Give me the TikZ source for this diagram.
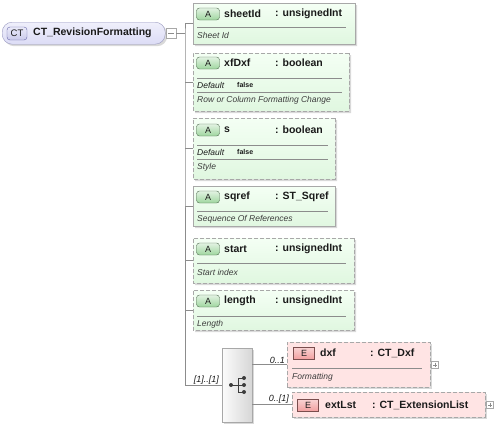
\documentclass[tikz,border=0pt]{standalone}
\usepackage{fontspec}
\setmainfont{Liberation Sans}
\usetikzlibrary{arrows.meta,positioning,shapes.misc,shadows}
\definecolor{ink}{HTML}{1A1A1A}
\definecolor{muted}{HTML}{3C3C3C}
\definecolor{wire}{HTML}{8C8C8C}
\definecolor{frame}{HTML}{A8A8A8}
\definecolor{attrfill}{HTML}{E0F7E0}
\definecolor{attrtop}{HTML}{F4FFF4}
\definecolor{agreen}{HTML}{9FD69F}
\definecolor{aedge}{HTML}{4F6B4F}
\definecolor{elemfill}{HTML}{FFE4E4}
\definecolor{ered}{HTML}{F2A0A0}
\definecolor{eedge}{HTML}{7A4D4D}
\definecolor{rootfill}{HTML}{DCDCF6}
\definecolor{rootedge}{HTML}{9A9AC0}
\definecolor{ctedge}{HTML}{6868A8}
\definecolor{seqfill}{HTML}{D6D6D6}

\tikzset{
  boxshadow/.style={drop shadow={shadow xshift=2pt,shadow yshift=-2pt,opacity=.25,fill=black!60}},
  attrbox/.style={chamfered rectangle,chamfered rectangle corners={north west,south west},
    chamfered rectangle xsep=3pt,chamfered rectangle ysep=3pt,inner sep=0pt,anchor=north west,
    draw=frame,top color=attrtop,bottom color=attrfill,boxshadow},
  elembox/.style={rectangle,inner sep=0pt,anchor=north west,draw=frame,dashed,
    dash pattern=on 4pt off 2pt,fill=elemfill,boxshadow},
  abadge/.style={rectangle,rounded corners=3pt,inner sep=0pt,
    minimum width=23pt,minimum height=12pt,draw=aedge,top color=white!70!agreen,bottom color=agreen,
    font=\fontsize{9}{9}\selectfont},
  ebadge/.style={rectangle,inner sep=0pt,minimum width=21pt,minimum height=12pt,draw=eedge,
    top color=white!55!ered,bottom color=ered,font=\fontsize{9}{9}\selectfont},
  namelabel/.style={anchor=west,inner sep=0pt,font=\bfseries\fontsize{10.5}{12}\selectfont},
  desclabel/.style={anchor=west,inner sep=0pt,text=muted,font=\itshape\fontsize{8.5}{10}\selectfont},
  deflabel/.style={anchor=west,inner sep=0pt,font=\itshape\fontsize{8.5}{10}\selectfont},
  defvalue/.style={anchor=west,inner sep=0pt,font=\bfseries\fontsize{7}{8}\selectfont},
  cardlabel/.style={inner sep=1pt,font=\itshape\fontsize{9}{10}\selectfont},
  sepline/.style={draw=wire,line width=.6pt},
  wireline/.style={draw=wire,line width=.6pt},
  togglebox/.style={rectangle,draw=frame,fill=white,inner sep=0pt,minimum size=#1},
  minusbox/.style={togglebox=10pt,path picture={\draw[wire]
    ([xshift=2pt]path picture bounding box.west)--([xshift=-2pt]path picture bounding box.east);}},
  plusbox/.style={togglebox=7pt,path picture={\draw[wire]
    ([xshift=1.5pt]path picture bounding box.west)--([xshift=-1.5pt]path picture bounding box.east)
    ([yshift=-1.5pt]path picture bounding box.north)--([yshift=1.5pt]path picture bounding box.south);}}
}

\begin{document}
\begin{tikzpicture}[x=1pt,y=-1pt,every node/.style={text=ink}]
  \useasboundingbox (0,0) rectangle (494,426);

  % complex type
  \node[rectangle,rounded corners=10pt,anchor=north west,draw=rootedge,top color=white!55!rootfill,
    bottom color=rootfill,boxshadow,minimum width=163pt,minimum height=22pt] (root) at (2,22) {};
  \node[rectangle,rounded corners=3pt,draw=ctedge,top color=white!40!rootfill,bottom color=rootfill!85!ctedge,
    inner sep=0pt,minimum width=20pt,minimum height=13pt,font=\fontsize{9.5}{10}\selectfont] (rootbadge) at (17,33.5) {CT};
  \node[namelabel] (rootname) at (33,33) {CT\_RevisionFormatting};
  \node[minusbox] (rootminus) at (171,33) {};
  \coordinate (trunk) at (185,33);

  % attributes
  \node[attrbox,minimum width=162pt,minimum height=41pt] (sheetid) at (193,3) {};
  \node[abadge] (sheetida) at (208,14) {A};
  \node[namelabel] (sheetidname) at (224,14) {sheetId};
  \node[namelabel] (sheetidtype) at (275,14) {: unsignedInt};
  \draw[sepline] (197,27.5) -- (346,27.5);
  \node[desclabel] (sheetiddesc) at (197,35.5) {Sheet Id};

  \node[attrbox,dashed,dash pattern=on 4pt off 2pt,minimum width=156pt,minimum height=58pt] (xfdxf) at (193,53) {};
  \node[abadge] (xfdxfa) at (208,63) {A};
  \node[namelabel] (xfdxfname) at (224,63) {xfDxf};
  \node[namelabel] (xfdxftype) at (275,63) {: boolean};
  \draw[sepline] (197,78) -- (342,78);
  \node[deflabel] (xfdxfdef) at (197,85) {Default};
  \node[defvalue] (xfdxfval) at (237,84.5) {false};
  \draw[sepline] (197,92) -- (342,92);
  \node[desclabel] (xfdxfdesc) at (197,100) {Row or Column Formatting Change};

  \node[attrbox,dashed,dash pattern=on 4pt off 2pt,minimum width=142pt,minimum height=61pt] (s) at (193,118) {};
  \node[abadge] (sa) at (208,130) {A};
  \node[namelabel] (sname) at (224,130) {s};
  \node[namelabel] (stype) at (275,130) {: boolean};
  \draw[sepline] (197,145) -- (328,145);
  \node[deflabel] (sdef) at (197,152) {Default};
  \node[defvalue] (sval) at (237,151.5) {false};
  \draw[sepline] (197,159) -- (328,159);
  \node[desclabel] (sdesc) at (197,167) {Style};

  \node[attrbox,minimum width=142pt,minimum height=40pt] (sqref) at (193,186) {};
  \node[abadge] (sqrefa) at (208,197) {A};
  \node[namelabel] (sqrefname) at (224,197) {sqref};
  \node[namelabel] (sqreftype) at (275,197) {: ST\_Sqref};
  \draw[sepline] (197,211) -- (328,211);
  \node[desclabel] (sqrefdesc) at (197,219) {Sequence Of References};

  \node[attrbox,dashed,dash pattern=on 4pt off 2pt,minimum width=161pt,minimum height=45pt] (start) at (193,238) {};
  \node[abadge] (starta) at (208,249) {A};
  \node[namelabel] (startname) at (224,249) {start};
  \node[namelabel] (starttype) at (275,249) {: unsignedInt};
  \draw[sepline] (197,263) -- (346,263);
  \node[desclabel] (startdesc) at (197,272) {Start index};

  \node[attrbox,dashed,dash pattern=on 4pt off 2pt,minimum width=161pt,minimum height=40pt] (length) at (193,290) {};
  \node[abadge] (lengtha) at (208,301) {A};
  \node[namelabel] (lengthname) at (224,301) {length};
  \node[namelabel] (lengthtype) at (275,301) {: unsignedInt};
  \draw[sepline] (197,316) -- (346,316);
  \node[desclabel] (lengthdesc) at (197,324) {Length};

  % sequence
  \node[rectangle,anchor=north west,draw=frame,left color=white!92!seqfill,right color=seqfill,boxshadow,
    minimum width=30pt,minimum height=74pt] (seq) at (222,348) {};
  \draw[muted,line width=.8pt] (231,385) -- (238,385) (238,378) -- (238,392)
    (238,378) -- (244,378) (238,385) -- (244,385) (238,392) -- (244,392);
  \fill[muted] (231,385) circle[radius=2pt];
  \fill[muted] (244,378) circle[radius=2pt];
  \fill[muted] (244,385) circle[radius=2pt];
  \fill[muted] (244,392) circle[radius=2pt];

  % elements
  \node[elembox,minimum width=143pt,minimum height=45pt] (dxf) at (287,342) {};
  \node[ebadge] (dxfe) at (304,353) {E};
  \node[namelabel] (dxfname) at (320,353) {dxf};
  \node[namelabel] (dxftype) at (370,353) {: CT\_Dxf};
  \draw[sepline] (292,368) -- (422,368);
  \node[desclabel] (dxfdesc) at (292,377) {Formatting};
  \node[plusbox,right=1pt of dxf] (dxfplus) {};

  \node[elembox,minimum width=193pt,minimum height=25pt] (extlst) at (292,392) {};
  \node[ebadge] (extlste) at (308,405) {E};
  \node[namelabel] (extlstname) at (325,405) {extLst};
  \node[namelabel] (extlsttype) at (372,405) {: CT\_ExtensionList};
  \node[plusbox,right=1pt of extlst] (extlstplus) {};

  % connectors
  \draw[wireline] (root.east) -- (rootminus.west);
  \draw[wireline] (rootminus.east) -- (trunk);
  \draw[wireline] (sheetid.west) -| (trunk) |- (seq.west);
  \draw[wireline] (xfdxf.west) -- (xfdxf.west -| trunk);
  \draw[wireline] (s.west) -- (s.west -| trunk);
  \draw[wireline] (sqref.west) -- (sqref.west -| trunk);
  \draw[wireline] (start.west) -- (start.west -| trunk);
  \draw[wireline] (length.west) -- (length.west -| trunk);
  \draw[wireline] (dxf.west -| seq.east) -- (dxf.west);
  \draw[wireline] (extlst.west -| seq.east) -- (extlst.west);
  \node[cardlabel,anchor=south east] (seqcard) at ([xshift=-2pt]seq.west) {[1]..[1]};
  \node[cardlabel,anchor=south east] (dxfcard) at ([xshift=-1pt]dxf.west) {0..1};
  \node[cardlabel,anchor=south east] (extlstcard) at ([xshift=-2pt]extlst.west) {0..[1]};
\end{tikzpicture}
\end{document}
